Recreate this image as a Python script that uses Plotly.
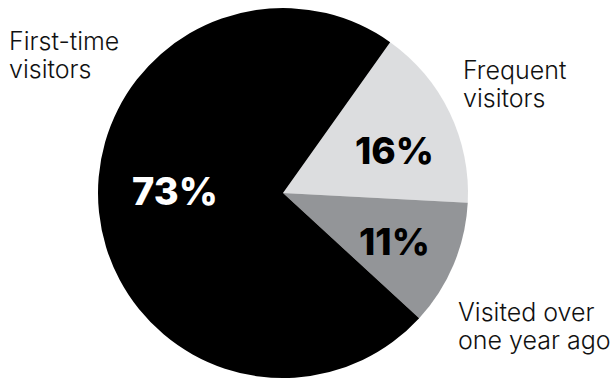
import math
import plotly.graph_objects as go

labels = ["Frequent visitors", "Visited over one year ago", "First-time visitors"]
values = [16, 11, 73]
colors = ["#dcdddf", "#939598", "#000000"]
text_colors = ["#000000", "#000000", "#ffffff"]
label_lines = [["Frequent", "visitors"], ["Visited over", "one year ago"], ["First-time", "visitors"]]

W, H = 612, 383
cx, cy, r = 283, 193, 185
start_angle = 35.4
pct_radius = [0.643, 0.66, 0.584]
pct_angle_shift = [4.8, 0.8, 6.8]
pct_size = [37, 37, 38]

fig = go.Figure(go.Pie(
    labels=labels,
    values=values,
    sort=False,
    direction="clockwise",
    rotation=start_angle,
    marker=dict(colors=colors, line=dict(width=0)),
    textinfo="none",
    domain=dict(x=[(cx - r) / W, (cx + r) / W], y=[(H - cy - r) / H, (H - cy + r) / H]),
    hoverinfo="label+percent",
    showlegend=False,
))

# percentage labels placed near each slice's mid-angle
total = sum(values)
acc = 0
for v, col, f, sh, sz in zip(values, text_colors, pct_radius, pct_angle_shift, pct_size):
    mid = start_angle + (acc + v / 2) / total * 360 + sh
    acc += v
    px = cx + math.sin(math.radians(mid)) * r * f
    py = cy - math.cos(math.radians(mid)) * r * f
    fig.add_annotation(text=f"{v}%", x=px / W, y=1 - py / H, xref="paper", yref="paper",
                       xanchor="center", yanchor="middle", showarrow=False,
                       font=dict(family="Inter", size=sz, color=col, weight=800))

# category labels: (left x, first baseline), line spacing
label_pos = [(461, 79), (456, 321), (7, 50)]
line_gap = 28
fs = 25
for lines, (x, base) in zip(label_lines, label_pos):
    for i, ln in enumerate(lines):
        yc = base + i * line_gap - 0.36 * fs
        fig.add_annotation(text=ln, x=x / W, y=1 - yc / H, xref="paper", yref="paper",
                           xanchor="left", yanchor="middle", align="left", showarrow=False,
                           font=dict(family="Inter", size=fs, color="#111111", weight=300))

fig.update_layout(width=W, height=H, margin=dict(l=0, r=0, t=0, b=0),
                  paper_bgcolor="white", plot_bgcolor="white")
fig.write_html("out.html")
